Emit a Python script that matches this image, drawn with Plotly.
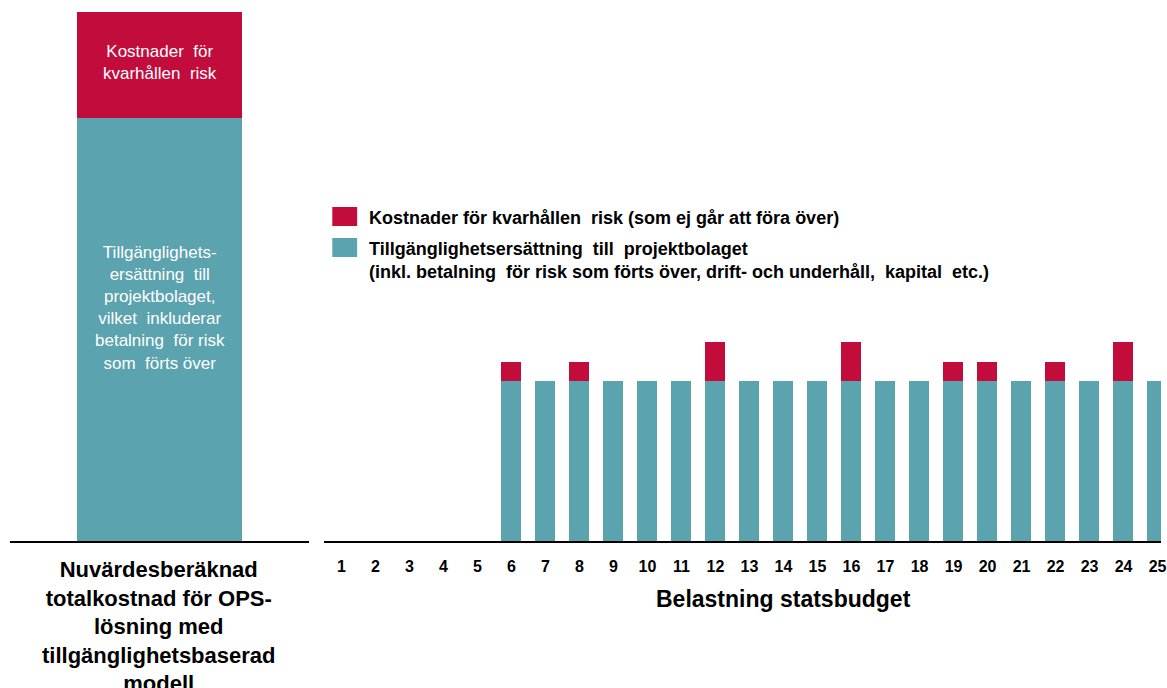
import plotly.graph_objects as go

# ---- data ----
total_label = ["OPS"]
total_avail = [21.15]      # Tillgänglighetsersättning (left bar)
total_risk = [5.3]         # Kostnader för kvarhållen risk (left bar)

years = list(range(1, 26))
year_labels = [str(y) for y in years]
avail = [0, 0, 0, 0, 0, 8, 8, 8, 8, 8, 8, 8, 8, 8, 8, 8, 8, 8, 8, 8, 8, 8, 8, 8, 8]
risk = [0, 0, 0, 0, 0, 0.95, 0, 0.95, 0, 0, 0, 1.95, 0, 0, 0, 1.95, 0, 0, 0.95, 0.95, 0, 0.95, 0, 1.95, 0]

RED = "#C20C3C"
TEAL = "#5BA3AE"
FONT = "Liberation Sans, Arial, sans-serif"
W, H = 1167, 688
PB = 541  # plot bottom in px

fig = go.Figure()
fig.add_trace(go.Bar(x=[0], y=total_avail, marker=dict(color=TEAL, line=dict(width=0)),
                     width=0.55, xaxis="x", yaxis="y", showlegend=False, hoverinfo="skip"))
fig.add_trace(go.Bar(x=[0], y=total_risk, marker=dict(color=RED, line=dict(width=0)),
                     width=0.55, xaxis="x", yaxis="y", showlegend=False, hoverinfo="skip"))
fig.add_trace(go.Bar(x=years, y=avail, marker=dict(color=TEAL, line=dict(width=0)),
                     width=0.59, xaxis="x2", yaxis="y2", showlegend=False, hoverinfo="skip"))
fig.add_trace(go.Bar(x=years, y=risk, marker=dict(color=RED, line=dict(width=0)),
                     width=0.59, xaxis="x2", yaxis="y2", showlegend=False, hoverinfo="skip"))

ymax = PB / 20.0

def px(x):
    return x / W

def py(y):
    return (PB - y) / PB

fig.update_layout(
    width=W, height=H,
    margin=dict(l=0, r=0, t=0, b=H - PB, pad=0),
    paper_bgcolor="white", plot_bgcolor="white",
    barmode="stack", bargap=0,
    font=dict(family=FONT, color="black"),
    xaxis=dict(domain=[px(10), px(311)], range=[-0.5, 0.5], showline=True, linecolor="black",
               linewidth=2, showgrid=False, zeroline=False, showticklabels=False, ticks="",
               fixedrange=True),
    yaxis=dict(domain=[0, 1], range=[0, ymax], visible=False, fixedrange=True),
    xaxis2=dict(domain=[px(326), 1], range=[0.5, 25.1], showline=True, linecolor="black",
                linewidth=2, showgrid=False, zeroline=False, tickmode="array",
                tickvals=years, ticktext=year_labels, ticks="", ticklabelstandoff=10,
                ticklabeloverflow="allow",
                tickfont=dict(family=FONT, size=16, weight="bold", color="black"),
                anchor="y2", fixedrange=True),
    yaxis2=dict(domain=[0, 1], range=[0, ymax], visible=False, anchor="x2", fixedrange=True),
)

ann = []
# text inside left bar
ann.append(dict(x=0, y=total_avail[0] + total_risk[0] / 2 + 0.15, xref="x", yref="y",
                xanchor="center", yanchor="middle",
                text="Kostnader  för<br>kvarhållen  risk", showarrow=False,
                font=dict(family=FONT, size=17, color="white"), align="center"))
ann.append(dict(x=0, y=py(308), xref="x", yref="paper", xanchor="center", yanchor="middle",
                text="Tillgänglighets-<br>ersättning  till<br>projektbolaget,<br>vilket  inkluderar<br>betalning  för risk<br>som  förts över",
                showarrow=False, font=dict(family=FONT, size=17, color="white"), align="center"))
# bottom-left label
ann.append(dict(x=px(160), y=py(555), xref="paper", yref="paper", xanchor="center", yanchor="top",
                text="<b>Nuvärdesberäknad<br>totalkostnad för OPS-<br>lösning med<br>tillgänglighetsbaserad<br>modell</b>",
                showarrow=False, font=dict(family=FONT, size=22, color="black"), align="center"))
# axis title
ann.append(dict(x=px(788), y=py(599), xref="paper", yref="paper", xanchor="center", yanchor="middle",
                text="<b>Belastning statsbudget</b>", showarrow=False,
                font=dict(family=FONT, size=23, color="black")))
# legend
ann.append(dict(x=px(369), y=py(218), xref="paper", yref="paper", xanchor="left", yanchor="middle",
                text="<b>Kostnader för kvarhållen  risk (som ej går att föra över)</b>",
                showarrow=False, font=dict(family=FONT, size=18, color="black"), align="left"))
ann.append(dict(x=px(369), y=py(260), xref="paper", yref="paper", xanchor="left", yanchor="middle",
                text="<b>Tillgänglighetsersättning  till  projektbolaget<br>(inkl. betalning  för risk som förts över, drift- och underhåll,  kapital  etc.)</b>",
                showarrow=False, font=dict(family=FONT, size=18, color="black"), align="left"))
fig.update_layout(annotations=ann)

fig.add_shape(type="rect", xref="paper", yref="paper", x0=px(334), x1=px(359), y0=py(226), y1=py(207),
              fillcolor=RED, line=dict(width=0))
fig.add_shape(type="rect", xref="paper", yref="paper", x0=px(334), x1=px(359), y0=py(257), y1=py(238),
              fillcolor=TEAL, line=dict(width=0))

fig.write_html("out.html")
